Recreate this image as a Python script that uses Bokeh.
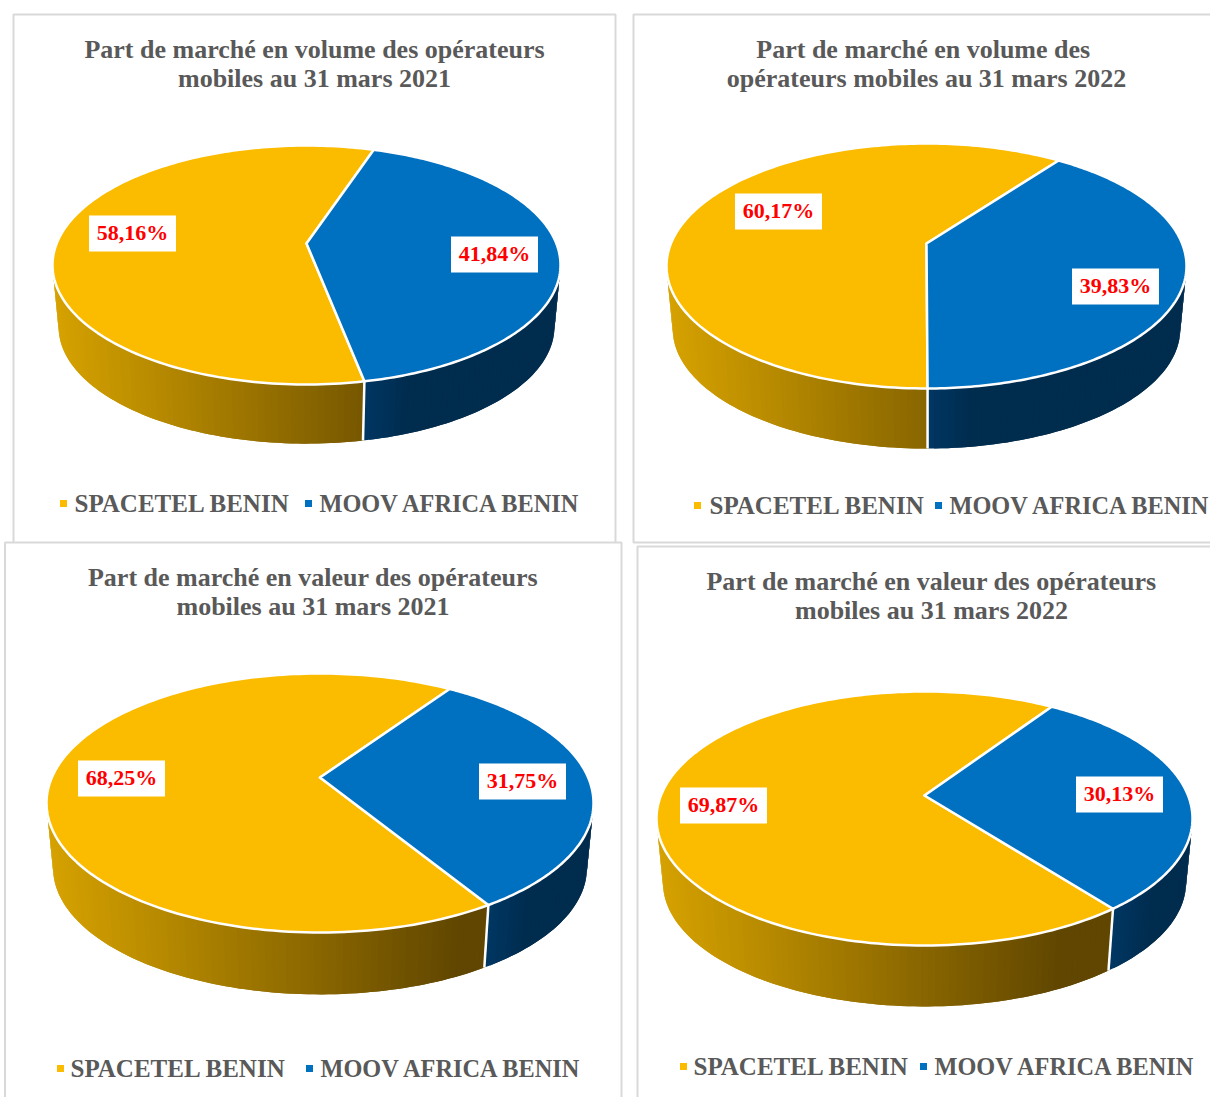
import numpy as np
from bokeh.plotting import figure
from bokeh.models import Range1d
from bokeh.core.properties import value
from bokeh.embed import file_html
from bokeh.resources import INLINE

# ---- data ----
SERIES = ["SPACETEL BENIN", "MOOV AFRICA BENIN"]
SPACETEL = [58.16, 60.17, 68.25, 69.87]
MOOV = [41.84, 39.83, 31.75, 30.13]
TITLES = [
    ["Part de marché en volume des opérateurs", "mobiles au 31 mars 2021"],
    ["Part de marché en  volume des", "opérateurs mobiles au 31 mars 2022"],
    ["Part de marché en valeur des opérateurs", "mobiles au 31 mars 2021"],
    ["Part de marché en valeur des opérateurs", "mobiles au 31 mars 2022"],
]

# ---- layout (reference pixels) ----
GOLD, BLUE = "#FBBC00", "#0070C0"
GREY = "#595959"
FONT = value("Liberation Serif")
PIES = [
    dict(cx=306, ey=264.5, rx=254, ry=119.5, ay=243, depth=62, start=-79.0),
    dict(cx=926, ey=265.5, rx=260, ry=122.5, ay=243, depth=63, start=-89.8),
    dict(cx=319.5, ey=802.5, rx=273.5, ry=129.5, ay=777, depth=65, start=-58.5),
    dict(cx=924, ey=818, rx=268, ry=127, ay=795, depth=64, start=-52.2),
]
PANELS = [(13, 615, 14, 1200), (633, 1300, 14, 542), (4.5, 621, 542, 1200), (637, 1300, 546, 1200)]
TITLE_POS = [(314, 49, 78), (926, 49, 78), (312.5, 577, 606), (931, 581, 610)]
GOLD_BOX = [(132, 233), (778, 211), (121, 778), (723, 805)]
BLUE_BOX = [(494, 254), (1115, 286), (522, 781), (1119, 794)]
LEGEND = [(503, 63, 75, 308, 320), (505, 697, 710, 938, 950), (1068, 60, 71, 309, 321), (1066, 683, 694, 923, 935)]
SHRINK = 0.976

W, H = 1210, 1097
p = figure(width=W, height=H, x_range=Range1d(0, W), y_range=Range1d(H, 0),
           toolbar_location=None, output_backend="svg", min_border=0,
           background_fill_color="white", outline_line_color=None)
p.axis.visible = False
p.grid.visible = False


def hexmix(a, b, f):
    f = min(max(f, 0.0), 1.0)
    return "#%02x%02x%02x" % tuple(int(round(x + (y - x) * f)) for x, y in zip(a, b))


for (x0, x1, y0, y1) in PANELS:
    p.patch([x0, x1, x1, x0], [y0, y0, y1, y1], fill_color="white",
            line_color="#D9D9D9", line_width=2)

for i, pie in enumerate(PIES):
    cx, ey, rx, ry, depth = pie["cx"], pie["ey"], pie["rx"], pie["ry"], pie["depth"]
    k = (ey - pie["ay"]) / ry
    q = np.sqrt(1 - k * k)

    def face(a_deg):
        a = np.radians(a_deg)
        u, v = np.cos(a), np.sin(a)
        return q * u / (1 + k * v), (v + k) / (1 + k * v)

    def top(X, Y):
        return cx + rx * X, ey - ry * Y

    def bottom(X, Y):
        return cx + SHRINK * rx * X, ey - SHRINK * ry * Y + depth

    a0 = pie["start"]
    a1 = a0 + MOOV[i] * 3.6
    bx, by = face(a0)
    t0 = np.degrees(np.arctan2(by, bx)) % 360

    # side wall, as thin slices so the horizontal shading can vary;
    # each slice overlaps the next ones, so no seam shows between them
    for (ta, tb, kind) in [(180, t0, "g"), (t0, 360, "b")]:
        ts = np.linspace(ta, tb, max(int((tb - ta) / 1.5), 3) + 1)
        xs, ys, cols = [], [], []
        for j in range(len(ts) - 1):
            seg = np.radians(ts[j:j + 3])
            tpx, tpy = top(np.cos(seg), np.sin(seg))
            bpx, bpy = bottom(np.cos(seg), np.sin(seg))
            xs.append(np.r_[tpx, bpx[::-1]].tolist())
            ys.append(np.r_[tpy, bpy[::-1]].tolist())
            xm = tpx[0]
            if kind == "g":
                col = hexmix((0xD6, 0xA2, 0x00), (0x60, 0x46, 0x00), (xm - (cx - rx)) / (1.5 * rx))
            else:
                col = hexmix((0x00, 0x36, 0x62), (0x00, 0x2C, 0x4E), (xm - (cx + bx * rx)) / 40)
            cols.append(col)
        p.patches(xs, ys, fill_color=cols, line_color=None)

    # divider between the two walls
    tx, ty = top(bx, by); wx, wy = bottom(bx, by)
    p.line([tx, wx], [ty, wy], line_color="white", line_width=2.5)

    # top faces
    apex = (cx, pie["ay"])
    for (s, e, col) in [(a1, a0 + 360, GOLD), (a0, a1, BLUE)]:
        ang = np.linspace(s, e, 181)
        X, Y = face(ang)
        px, py = top(X, Y)
        p.patch(np.r_[apex[0], px], np.r_[apex[1], py], fill_color=col,
                line_color="white", line_width=2.5, line_join="round")

    # data labels
    gx, gy = GOLD_BOX[i]; mx, my = BLUE_BOX[i]
    p.rect([gx, mx], [gy, my], width=87, height=36, fill_color="white", line_color=None)
    labels = [f"{SPACETEL[i]:.2f}%".replace(".", ","), f"{MOOV[i]:.2f}%".replace(".", ",")]
    p.text([gx, mx], [gy - 1, my - 1], text=labels, text_color="#FF0000", text_font=FONT,
           text_font_style="bold", text_font_size="22px", text_align="center",
           text_baseline="middle")

    # title
    tcx, ty1, ty2 = TITLE_POS[i]
    p.text([tcx, tcx], [ty1, ty2], text=TITLES[i], text_color=GREY, text_font=FONT,
           text_font_style="bold", text_font_size="26px", text_align="center",
           text_baseline="middle")

    # legend
    ly, m1, t1, m2, t2 = LEGEND[i]
    p.scatter([m1, m2], [ly, ly], marker="square", size=7, fill_color=[GOLD, BLUE], line_color=None)
    p.text([t1 - 1], [ly], text=SERIES[:1], text_color=GREY, text_font=FONT,
           text_font_style="bold", text_font_size="25px", text_align="left",
           text_baseline="middle")
    p.text([t2 - 1], [ly], text=SERIES[1:], text_color=GREY, text_font=FONT,
           text_font_style="bold", text_font_size="24.3px", text_align="left",
           text_baseline="middle")

open("out.html", "w").write(file_html(p, INLINE))
